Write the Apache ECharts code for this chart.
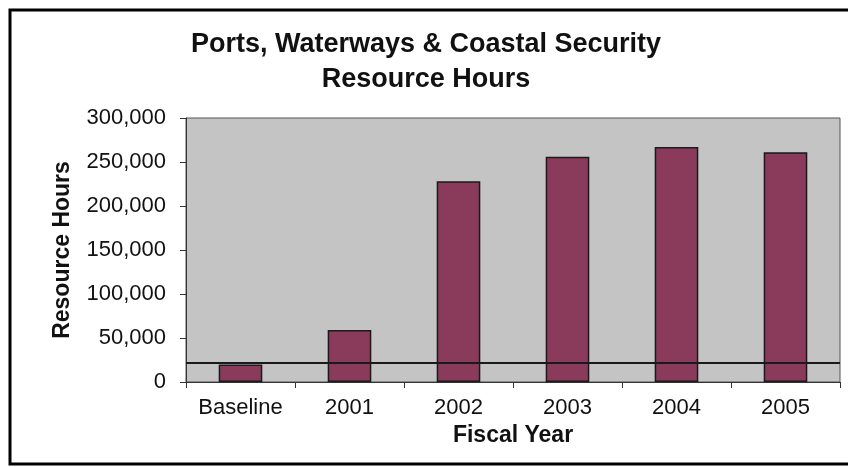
<!DOCTYPE html>
<html>
<head>
<meta charset="utf-8">
<script src="https://cdn.jsdelivr.net/npm/echarts@6/dist/echarts.min.js"></script>
<style>
    html, body { margin: 0; padding: 0; background: #fff; }
    #chart { width: 848px; height: 467px; }
</style>
</head>
<body>
<div id="chart"></div>
<script>
const categories = ['Baseline', '2001', '2002', '2003', '2004', '2005'];
const resourceHours = [20000, 59000, 228000, 256000, 267000, 261000];
const baselineLevel = 22000;
const yTicks = { min: 0, max: 300000, interval: 50000 };

const fontFamily = '"Liberation Sans", Arial, sans-serif';

const chart = echarts.init(document.getElementById('chart'));

const option = {
    backgroundColor: '#fff',
    animation: false,
    title: {
        text: 'Ports, Waterways & Coastal Security\nResource Hours',
        left: 421,
        top: 22,
        textAlign: 'center',
        textStyle: {
            fontFamily,
            fontSize: 27,
            fontWeight: 'bold',
            color: '#111',
            lineHeight: 35
        }
    },
    graphic: [
        {
            type: 'rect',
            shape: { x: 10, y: 10, width: 900, height: 454 },
            style: { fill: 'none', stroke: '#000', lineWidth: 3 },
            silent: true
        }
    ],
    grid: {
        left: 186,
        right: 8,
        top: 118,
        bottom: 85,
        show: true,
        backgroundColor: '#c4c4c4',
        borderColor: '#555',
        borderWidth: 1
    },
    xAxis: {
        type: 'category',
        data: categories,
        name: 'Fiscal Year',
        nameLocation: 'middle',
        nameGap: 42,
        nameTextStyle: { fontFamily, fontSize: 23, fontWeight: 'bold', color: '#111' },
        axisLine: { lineStyle: { color: '#333', width: 1 } },
        axisTick: { show: true, length: 6, lineStyle: { color: '#333' } },
        axisLabel: { fontFamily, fontSize: 22, color: '#111', margin: 15, interval: 0 }
    },
    yAxis: {
        type: 'value',
        min: yTicks.min,
        max: yTicks.max,
        interval: yTicks.interval,
        name: 'Resource Hours',
        nameLocation: 'middle',
        nameGap: 112,
        nameTextStyle: { fontFamily, fontSize: 23, fontWeight: 'bold', color: '#111' },
        axisLine: { show: true, lineStyle: { color: '#333', width: 1 } },
        axisTick: { show: true, length: 6, lineStyle: { color: '#333' } },
        splitLine: { show: false },
        axisLabel: {
            fontFamily,
            fontSize: 22,
            color: '#111',
            margin: 20,
            formatter: v => v.toLocaleString('en-US')
        }
    },
    series: [
        {
            type: 'bar',
            data: resourceHours,
            barWidth: '40%',
            itemStyle: {
                color: '#8a3a5a',
                borderColor: '#1a1a1a',
                borderWidth: 1.5
            },
            markLine: {
                silent: true,
                symbol: 'none',
                label: { show: false },
                lineStyle: { color: '#1a1a1a', width: 2, type: 'solid' },
                data: [{ yAxis: baselineLevel }]
            }
        }
    ]
};

chart.setOption(option);
</script>
</body>
</html>
